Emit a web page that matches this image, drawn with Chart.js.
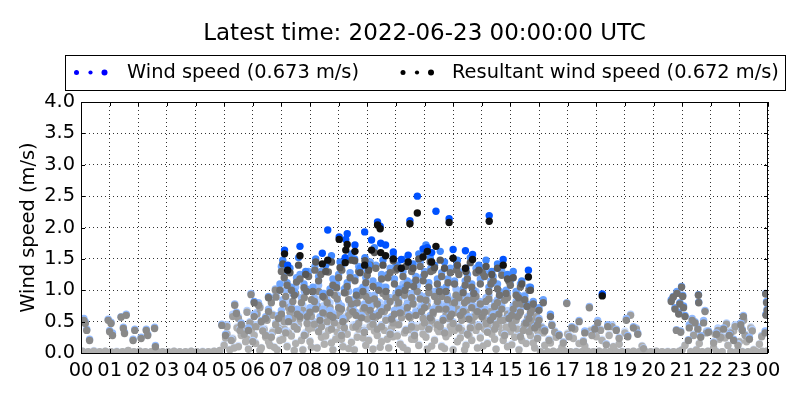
<!DOCTYPE html>
<html>
<head>
<meta charset="utf-8">
<script src="https://cdn.jsdelivr.net/npm/chart.js@4.4.0/dist/chart.umd.min.js"></script>
<style>
  body { margin: 0; background: #fff; }
  #wrap { width: 800px; height: 400px; }
</style>
</head>
<body>
<div id="wrap"><canvas id="windChart"></canvas></div>
<script>
const titleText = 'Latest time: 2022-06-23 00:00:00 UTC';
const latestWind = 0.673;
const latestResultant = 0.672;

const hourLabels = ['00','01','02','03','04','05','06','07','08','09','10','11','12',
  '13','14','15','16','17','18','19','20','21','22','23','00'];
const speedLabels = ['0.0','0.5','1.0','1.5','2.0','2.5','3.0','3.5','4.0'];

// each row: [hour of day, wind speed, resultant wind speed]  (m/s)
// day1 = oldest (lightest) ... day6 = latest day (darkest)
const day1 = [
  [0.05,0.03,0.03],[0.25,0.02,0.02],[0.45,0.04,0.03],[0.65,0.02,0.02],[0.85,0.03,0.03],
  [1.05,0.02,0.02],[1.25,0.03,0.02],[1.45,0.02,0.02],[1.65,0.04,0.04],[1.85,0.02,0.02],
  [2.05,0.03,0.03],[2.25,0.02,0.02],[2.45,0.02,0.02],[2.65,0.03,0.03],[2.85,0.02,0.02],
  [3.05,0.02,0.02],[3.25,0.03,0.03],[3.45,0.02,0.02],[3.65,0.02,0.02],[3.85,0.03,0.03],
  [4.05,0.02,0.02],[4.25,0.03,0.02],[4.45,0.02,0.02],[4.65,0.03,0.03],[4.85,0.04,0.04],
  [5.00,0.14,0.12],[5.10,0.32,0.30],[5.20,0.06,0.05],[5.30,0.24,0.22],[5.45,0.42,0.40],
  [5.50,0.12,0.10],[5.60,0.30,0.28],[5.75,0.20,0.18],[5.85,0.07,0.06],[5.95,0.37,0.35],
  [6.10,0.17,0.15],[6.20,0.45,0.42],[6.30,0.09,0.08],[6.45,0.27,0.25],[6.60,0.14,0.12],
  [6.70,0.36,0.33],[6.85,0.06,0.05],[6.95,0.22,0.20],[7.10,0.41,0.38],[7.20,0.12,0.10],
  [7.35,0.30,0.27],[7.50,0.17,0.15],[7.60,0.48,0.45],[7.75,0.06,0.05],[7.85,0.33,0.30],
  [8.00,0.20,0.18],[8.10,0.43,0.40],[8.25,0.09,0.08],[8.40,0.28,0.25],[8.50,0.16,0.14],
  [8.65,0.40,0.36],[8.80,0.06,0.05],[8.90,0.25,0.22],[9.05,0.48,0.44],[9.15,0.12,0.10],
  [9.30,0.33,0.30],[9.45,0.19,0.17],[9.55,0.06,0.05],[9.70,0.42,0.38],[9.85,0.27,0.24],
  [9.95,0.14,0.12],[10.10,0.46,0.42],[10.20,0.07,0.06],[10.35,0.31,0.28],[10.50,0.20,0.18],
  [10.60,0.40,0.36],[10.75,0.09,0.08],[10.90,0.29,0.26],[11.00,0.49,0.45],[11.15,0.16,0.14],
  [11.30,0.35,0.32],[11.40,0.05,0.04],[11.55,0.25,0.22],[11.70,0.44,0.40],[11.80,0.14,0.12],
  [11.95,0.33,0.30],[12.10,0.07,0.06],[12.20,0.48,0.44],[12.35,0.22,0.20],[12.50,0.37,0.34],
  [12.60,0.12,0.10],[12.75,0.29,0.26],[12.90,0.46,0.42],[13.00,0.06,0.05],[13.15,0.20,0.18],
  [13.30,0.40,0.36],[13.45,0.14,0.12],[13.55,0.31,0.28],[13.70,0.49,0.45],[13.85,0.09,0.08],
  [13.95,0.27,0.24],[14.10,0.42,0.38],[14.20,0.17,0.15],[14.35,0.33,0.30],[14.50,0.07,0.06],
  [14.60,0.46,0.42],[14.75,0.22,0.20],[14.90,0.12,0.10],[15.00,0.37,0.34],[15.15,0.28,0.25],
  [15.30,0.06,0.05],[15.45,0.43,0.40],[15.55,0.17,0.15],[15.70,0.31,0.28],[15.85,0.09,0.08],
  [15.95,0.38,0.35],[16.05,0.03,0.02],[16.20,0.13,0.12],[16.30,0.02,0.02],[16.50,0.03,0.03],
  [16.60,0.27,0.25],[16.70,0.02,0.02],[16.90,0.03,0.03],[17.00,0.32,0.30],[17.10,0.02,0.02],
  [17.30,0.03,0.02],[17.40,0.16,0.15],[17.50,0.02,0.02],[17.70,0.03,0.03],[17.80,0.37,0.35],
  [17.90,0.02,0.02],[18.10,0.03,0.03],[18.20,0.22,0.20],[18.30,0.02,0.02],[18.50,0.03,0.03],
  [18.60,0.11,0.10],[18.70,0.02,0.02],[18.90,0.03,0.02],[19.10,0.02,0.02],[19.30,0.03,0.03],
  [19.50,0.02,0.02],[19.70,0.03,0.03],[19.90,0.02,0.02],[20.10,0.03,0.03],[20.30,0.02,0.02],
  [20.50,0.03,0.02],[20.70,0.02,0.02],[20.90,0.03,0.03],[21.00,0.06,0.05],[21.10,0.13,0.12],
  [21.30,0.03,0.02],[21.50,0.06,0.05],[21.60,0.16,0.15],[21.70,0.02,0.02],[21.90,0.03,0.03],
  [22.10,0.09,0.08],[22.20,0.03,0.02],[22.30,0.24,0.22],[22.40,0.02,0.02],[22.60,0.13,0.12],
  [22.70,0.03,0.02],[22.90,0.02,0.02],[23.00,0.19,0.18],[23.10,0.03,0.02],[23.30,0.02,0.02],
  [23.50,0.06,0.05],[23.60,0.02,0.02],[23.80,0.03,0.03],[23.95,0.03,0.03],
  [5.05,0.26,0.24],[5.35,0.10,0.08],[5.65,0.44,0.40],[5.80,0.25,0.22],[6.05,0.30,0.28],
  [6.25,0.05,0.04],[6.40,0.40,0.37],[6.55,0.20,0.18],[6.75,0.10,0.09],[6.90,0.44,0.40],
  [7.05,0.25,0.22],[7.25,0.35,0.32],[7.45,0.05,0.04],[7.70,0.22,0.20],[7.95,0.42,0.38],
  [8.05,0.10,0.09],[8.35,0.45,0.41],[8.55,0.30,0.27],[8.75,0.18,0.16],[8.95,0.36,0.33],
  [9.10,0.24,0.22],[9.35,0.08,0.07],[9.50,0.45,0.41],[9.65,0.28,0.25],[9.90,0.40,0.36],
  [10.05,0.22,0.20],[10.25,0.38,0.35],[10.45,0.10,0.09],[10.70,0.24,0.22],[10.85,0.44,0.40],
  [11.05,0.30,0.27],[11.25,0.10,0.09],[11.50,0.40,0.37],[11.65,0.24,0.22],[11.90,0.46,0.42],
  [12.05,0.28,0.25],[12.25,0.12,0.11],[12.45,0.42,0.38],[12.70,0.08,0.07],[12.85,0.34,0.31],
  [13.05,0.40,0.36],[13.25,0.26,0.24],[13.40,0.06,0.05],[13.65,0.22,0.20],[13.80,0.40,0.36],
  [14.05,0.12,0.11],[14.25,0.45,0.41],[14.45,0.24,0.22],[14.70,0.35,0.32],[14.85,0.45,0.41],
  [15.05,0.15,0.13],[15.25,0.42,0.38],[15.40,0.22,0.20],[15.65,0.44,0.40],[15.80,0.18,0.16],
  [16.15,0.35,0.32],[16.40,0.18,0.16],[16.80,0.10,0.09],[17.20,0.25,0.23],[17.60,0.12,0.11],
  [18.00,0.28,0.26],[18.45,0.30,0.28],[18.80,0.15,0.14],[19.00,0.35,0.32],[19.60,0.12,0.11],
  [22.15,0.32,0.30],[22.50,0.26,0.24],[22.80,0.38,0.35],[23.25,0.20,0.18],[23.40,0.42,0.40],
  [23.70,0.15,0.14]
];

const day2 = [
  [5.10,0.45,0.42],[5.25,0.22,0.20],[5.50,0.58,0.55],[5.70,0.32,0.30],[5.90,0.50,0.48],
  [6.00,0.20,0.18],[6.15,0.65,0.62],[6.35,0.38,0.35],[6.50,0.55,0.52],[6.65,0.28,0.25],
  [6.80,0.48,0.45],[7.00,0.62,0.58],[7.15,0.35,0.32],[7.30,0.72,0.65],[7.45,0.45,0.42],
  [7.65,0.58,0.55],[7.80,0.30,0.28],[7.95,0.68,0.62],[8.15,0.50,0.46],[8.30,0.36,0.34],
  [8.45,0.75,0.68],[8.60,0.55,0.50],[8.75,0.40,0.38],[8.95,0.65,0.60],[9.10,0.30,0.28],
  [9.25,0.58,0.54],[9.40,0.78,0.70],[9.60,0.45,0.42],[9.75,0.62,0.58],[9.90,0.35,0.33],
  [10.05,0.70,0.65],[10.20,0.50,0.46],[10.35,0.40,0.38],[10.45,0.80,0.72],[10.65,0.55,0.52],
  [10.80,0.32,0.30],[10.95,0.68,0.62],[11.10,0.48,0.45],[11.25,0.72,0.66],[11.35,0.38,0.36],
  [11.50,0.60,0.56],[11.65,0.30,0.28],[11.85,0.75,0.68],[12.00,0.52,0.48],[12.15,0.40,0.38],
  [12.30,0.66,0.62],[12.45,0.48,0.45],[12.60,0.78,0.70],[12.70,0.35,0.32],[12.85,0.58,0.55],
  [13.05,0.70,0.64],[13.20,0.42,0.40],[13.35,0.62,0.58],[13.50,0.32,0.30],[13.65,0.55,0.52],
  [13.80,0.74,0.68],[13.90,0.45,0.42],[14.05,0.60,0.56],[14.20,0.35,0.33],[14.40,0.68,0.62],
  [14.50,0.48,0.45],[14.65,0.56,0.52],[14.80,0.30,0.28],[14.95,0.62,0.58],[15.10,0.42,0.40],
  [15.20,0.55,0.52],[15.35,0.28,0.26],[15.50,0.48,0.45],[15.65,0.36,0.34],[15.80,0.52,0.50],
  [15.95,0.25,0.23],[16.10,0.42,0.40],[16.35,0.22,0.20],[16.55,0.35,0.33],[16.85,0.18,0.16],
  [17.05,0.28,0.26],[17.25,0.40,0.38],[17.55,0.20,0.18],[17.85,0.30,0.28],[18.15,0.38,0.36],
  [18.35,0.15,0.13],[18.55,0.45,0.42],[18.80,0.25,0.23],[19.20,0.62,0.60],[19.40,0.40,0.38],
  [19.65,0.08,0.07],[21.40,0.30,0.28],[21.85,0.35,0.32],[22.10,0.18,0.16],[22.25,0.40,0.36],
  [22.35,0.28,0.25],[22.55,0.48,0.46],[22.70,0.35,0.32],[22.85,0.45,0.42],[22.95,0.15,0.12],
  [23.15,0.55,0.52],[23.20,0.30,0.28],[23.45,0.38,0.35],[23.78,0.28,0.26],
  [5.30,0.62,0.58],[5.55,0.38,0.36],[5.80,0.68,0.65],[6.10,0.45,0.42],[6.25,0.75,0.72],
  [6.45,0.30,0.28],[6.70,0.62,0.60],[6.90,0.38,0.36],[7.10,0.55,0.50],[7.25,0.82,0.72],
  [7.40,0.60,0.55],[7.55,0.40,0.38],[7.75,0.76,0.68],[7.90,0.50,0.47],[8.05,0.62,0.58],
  [8.25,0.85,0.75],[8.40,0.45,0.42],[8.55,0.68,0.62],[8.70,0.80,0.72],[8.85,0.52,0.48],
  [9.05,0.72,0.66],[9.20,0.42,0.40],[9.35,0.65,0.60],[9.55,0.85,0.78],[9.70,0.50,0.47],
  [9.85,0.75,0.68],[10.00,0.58,0.54],[10.15,0.82,0.75],[10.30,0.62,0.57],[10.50,0.45,0.42],
  [10.60,0.72,0.66],[10.75,0.88,0.80],[10.90,0.52,0.48],[11.05,0.78,0.72],[11.20,0.60,0.56],
  [11.40,0.85,0.78],[11.55,0.45,0.42],[11.70,0.68,0.62],[11.95,0.58,0.55],[12.10,0.82,0.75],
  [12.25,0.55,0.52],[12.40,0.75,0.70],[12.55,0.45,0.42],[12.75,0.65,0.60],[12.90,0.85,0.78],
  [13.00,0.50,0.47],[13.15,0.78,0.70],[13.30,0.55,0.52],[13.45,0.70,0.65],[13.60,0.42,0.40],
  [13.75,0.62,0.58],[13.95,0.80,0.72],[14.15,0.50,0.47],[14.30,0.72,0.66],[14.45,0.40,0.38],
  [14.60,0.78,0.70],[14.75,0.55,0.52],[14.90,0.68,0.62],[15.05,0.48,0.45],[15.30,0.65,0.60],
  [15.45,0.38,0.36],[15.60,0.58,0.55],[15.75,0.45,0.42],[15.90,0.62,0.58]
];

const day3 = [
  [0.10,0.55,0.52],[0.15,0.50,0.47],[0.20,0.38,0.36],[0.30,0.22,0.20],[0.95,0.54,0.52],
  [1.05,0.49,0.47],[1.00,0.36,0.34],[1.10,0.32,0.28],[1.40,0.58,0.57],[1.58,0.62,0.60],
  [1.48,0.41,0.39],[1.52,0.33,0.31],[1.82,0.22,0.20],[1.88,0.38,0.36],[2.10,0.25,0.23],
  [2.28,0.38,0.36],[2.33,0.30,0.28],[2.57,0.41,0.39],[2.60,0.12,0.10],[4.92,0.46,0.44],
  [5.05,0.30,0.28],[5.37,0.78,0.76],[5.43,0.65,0.63],[5.60,0.48,0.45],[5.85,0.40,0.36],
  [5.94,0.95,0.93],[6.05,0.62,0.58],[6.30,0.52,0.50],[6.55,0.70,0.66],[6.79,1.02,1.00],
  [6.81,0.92,0.89],[6.90,0.60,0.55],[7.05,0.85,0.78],[7.25,0.55,0.50],[7.40,0.95,0.82],
  [7.55,0.70,0.62],[7.70,0.88,0.80],[7.90,0.62,0.58],[8.05,1.00,0.85],[8.20,0.78,0.70],
  [8.35,0.58,0.52],[8.50,0.95,0.88],[8.70,0.68,0.60],[8.85,1.05,0.92],[9.00,0.80,0.72],
  [9.15,0.55,0.50],[9.35,0.98,0.85],[9.50,0.72,0.66],[9.65,0.88,0.80],[9.80,0.60,0.56],
  [9.95,1.02,0.90],[10.10,0.75,0.68],[10.25,0.92,0.86],[10.40,0.65,0.60],[10.55,1.05,0.95],
  [10.70,0.80,0.72],[10.85,0.58,0.54],[11.00,0.95,0.88],[11.15,0.70,0.64],[11.30,1.00,0.92],
  [11.45,0.62,0.58],[11.60,0.85,0.78],[11.75,1.08,0.98],[11.90,0.72,0.66],[12.05,0.90,0.84],
  [12.20,0.60,0.56],[12.35,0.98,0.90],[12.50,0.78,0.70],[12.65,0.55,0.52],[12.80,0.92,0.85],
  [12.95,0.70,0.62],[13.10,1.02,0.92],[13.25,0.65,0.60],[13.40,0.85,0.80],[13.55,0.58,0.54],
  [13.70,0.95,0.86],[13.85,0.72,0.66],[14.00,0.62,0.58],[14.15,0.88,0.82],[14.30,0.55,0.52],
  [14.45,0.80,0.74],[14.60,0.68,0.62],[14.80,0.90,0.84],[14.95,0.58,0.55],[15.10,0.75,0.70],
  [15.25,0.62,0.58],[15.40,0.85,0.78],[15.55,0.50,0.48],[15.70,0.68,0.64],[15.85,0.42,0.40],
  [16.00,0.55,0.52],[16.20,0.38,0.35],[16.45,0.46,0.44],[16.70,0.30,0.28],[16.97,0.80,0.79],
  [17.15,0.42,0.40],[17.40,0.52,0.50],[17.60,0.35,0.32],[17.76,0.74,0.72],[17.95,0.40,0.38],
  [18.05,0.52,0.48],[18.40,0.45,0.42],[18.70,0.38,0.36],[19.05,0.55,0.52],[19.10,0.28,0.26],
  [19.30,0.42,0.40],[19.45,0.32,0.30],[20.80,0.37,0.36],[20.95,0.35,0.33],[21.22,0.21,0.20],
  [21.25,0.45,0.40],[21.35,0.55,0.52],[21.45,0.50,0.48],[21.55,0.42,0.38],[21.65,0.28,0.25],
  [21.75,0.52,0.48],[21.80,0.68,0.66],[21.92,0.35,0.33],[22.20,0.32,0.30],[22.45,0.40,0.38],
  [22.65,0.30,0.28],[22.80,0.22,0.20],[23.05,0.48,0.45],[23.10,0.38,0.36],[23.14,0.60,0.58],
  [23.35,0.25,0.22],[23.90,0.35,0.32],
  [6.20,0.80,0.76],[6.45,0.58,0.55],[6.65,0.85,0.80],[7.00,0.68,0.62],[7.15,1.00,0.90],
  [7.35,0.75,0.70],[7.50,1.05,0.95],[7.65,0.62,0.58],[7.80,0.98,0.88],[8.00,0.72,0.65],
  [8.15,0.88,0.82],[8.30,1.08,0.98],[8.45,0.70,0.64],[8.60,0.85,0.80],[8.80,0.62,0.57],
  [8.95,0.92,0.86],[9.10,0.75,0.70],[9.25,1.05,0.96],[9.45,0.85,0.78],[9.60,0.65,0.60],
  [9.75,1.00,0.92],[9.90,0.78,0.72],[10.05,0.92,0.84],[10.20,0.62,0.58],[10.35,0.82,0.78],
  [10.50,0.72,0.66],[10.65,0.98,0.90],[10.80,0.88,0.82],[10.95,0.68,0.62],[11.10,0.85,0.80],
  [11.25,1.10,0.98],[11.40,0.78,0.72],[11.55,0.95,0.88],[11.70,0.65,0.60],[11.85,0.92,0.86],
  [12.00,0.78,0.72],[12.15,1.05,0.96],[12.30,0.70,0.65],[12.45,0.88,0.82],[12.60,1.00,0.90],
  [12.75,0.75,0.70],[12.90,0.62,0.58],[13.05,0.85,0.80],[13.20,0.95,0.88],[13.35,0.70,0.66],
  [13.50,0.90,0.84],[13.65,0.78,0.72],[13.80,0.98,0.90],[13.95,0.82,0.78],[14.10,0.70,0.65],
  [14.25,0.92,0.86],[14.40,0.62,0.58],[14.55,0.85,0.80],[14.70,0.75,0.70],[14.90,0.95,0.88],
  [15.05,0.65,0.60],[15.20,0.82,0.78],[15.35,0.70,0.65],[15.50,0.92,0.86],[15.65,0.58,0.55],
  [15.80,0.75,0.70],[15.95,0.48,0.45]
];

const day4 = [
  [6.05,0.82,0.80],[6.55,0.90,0.88],[6.95,1.10,1.00],[7.10,1.28,1.20],[7.20,1.12,1.08],
  [7.45,0.98,0.92],[7.53,1.20,1.13],[7.79,1.10,1.04],[7.95,1.30,1.22],[8.10,1.05,0.98],
  [8.17,1.38,1.32],[8.30,1.22,1.15],[8.45,0.95,0.90],[8.64,1.45,1.29],[8.80,1.18,1.08],
  [8.93,1.10,1.04],[9.11,1.38,1.32],[9.20,1.02,0.96],[9.40,1.28,1.20],[9.57,1.20,1.15],
  [9.70,1.38,1.30],[9.85,1.05,0.98],[10.00,1.30,1.24],[10.20,1.15,1.06],[10.30,1.40,1.35],
  [10.50,1.25,1.18],[10.65,1.05,0.98],[10.80,1.35,1.28],[10.95,1.18,1.10],[11.10,1.02,0.96],
  [11.25,1.30,1.22],[11.40,1.15,1.08],[11.55,1.38,1.30],[11.70,1.22,1.16],[11.85,1.45,1.38],
  [12.00,1.30,1.25],[12.15,1.12,1.05],[12.30,1.40,1.32],[12.45,1.18,1.10],[12.60,1.28,1.22],
  [12.75,1.05,0.98],[12.90,1.35,1.28],[13.05,1.15,1.10],[13.20,1.30,1.25],[13.35,1.02,0.96],
  [13.50,1.25,1.18],[13.65,1.10,1.05],[13.80,1.35,1.28],[13.95,1.18,1.10],[14.10,1.28,1.22],
  [14.25,1.05,0.98],[14.40,1.22,1.15],[14.55,1.10,1.02],[14.70,1.30,1.24],[14.85,1.00,0.95],
  [15.00,1.15,1.08],[15.20,0.98,0.92],[15.35,1.10,1.05],[15.50,0.90,0.85],[15.65,1.05,1.00],
  [15.80,0.82,0.78],[16.00,0.72,0.68],[16.15,0.85,0.80],[16.40,0.62,0.58],[20.62,0.85,0.82],
  [20.69,0.90,0.89],[20.75,0.72,0.70],[20.82,0.98,0.95],[20.88,0.65,0.62],[20.92,0.80,0.78],
  [20.98,1.06,1.05],[21.02,0.92,0.90],[21.05,0.75,0.72],[21.10,0.60,0.58],[21.57,0.93,0.92],
  [21.58,0.81,0.80],[23.92,0.95,0.94],[23.95,0.82,0.80],[23.97,0.70,0.68],[23.93,0.62,0.60],
  [7.00,1.38,1.30],[7.35,1.05,1.00],[7.65,1.25,1.18],[7.88,1.02,0.98],[8.38,1.30,1.25],
  [8.70,1.02,0.96],[9.00,1.25,1.20],[9.30,1.12,1.06],[9.62,0.98,0.92],[9.95,1.20,1.12],
  [10.10,1.45,1.40],[10.40,1.08,1.00],[10.72,1.25,1.20],[11.00,1.40,1.32],[11.32,1.05,1.00],
  [11.62,1.12,1.06],[11.95,1.22,1.15],[12.22,1.35,1.30],[12.52,1.02,0.98],[12.82,1.18,1.12],
  [13.12,1.40,1.32],[13.42,1.15,1.08],[13.72,1.00,0.95],[14.02,1.35,1.28],[14.32,1.15,1.10],
  [14.62,0.98,0.92],[14.95,1.20,1.14],[15.28,0.92,0.88],[15.58,0.78,0.74]
];

const day5 = [
  [7.05,1.48,1.42],[7.30,1.35,1.28],[7.60,1.52,1.40],[7.85,1.30,1.25],[8.20,1.50,1.45],
  [8.55,1.40,1.30],[8.75,1.55,1.45],[9.05,1.45,1.36],[9.45,1.58,1.48],[9.56,1.50,1.47],
  [9.75,1.35,1.28],[9.92,1.52,1.47],[10.05,1.40,1.32],[10.25,1.68,1.60],[10.55,1.48,1.40],
  [10.91,1.55,1.47],[11.05,1.40,1.35],[11.35,1.50,1.38],[11.60,1.42,1.35],[11.80,1.58,1.50],
  [12.05,1.72,1.62],[12.20,1.52,1.45],[12.35,1.40,1.36],[12.55,1.62,1.48],[12.70,1.45,1.35],
  [13.15,1.48,1.40],[13.45,1.35,1.30],[13.60,1.52,1.44],[13.90,1.40,1.32],[14.15,1.48,1.38],
  [14.35,1.30,1.25],[14.55,1.42,1.35],[14.90,1.25,1.18],[15.10,1.30,1.20],[15.40,1.15,1.10],
  [15.70,1.05,1.00]
];

const day6 = [
  [7.11,1.64,1.58],[7.22,1.40,1.32],[7.65,1.70,1.55],[8.43,1.59,1.42],[8.62,1.96,1.48],
  [9.02,1.85,1.81],[9.23,1.52,1.44],[9.25,1.81,1.64],[9.30,1.90,1.73],[9.57,1.72,1.62],
  [9.91,1.93,1.40],[10.15,1.80,1.64],[10.36,2.09,2.04],[10.45,2.02,1.98],[10.47,1.75,1.60],
  [10.64,1.72,1.55],[10.91,1.61,1.50],[11.19,1.49,1.35],[11.43,1.56,1.45],[11.49,2.11,2.06],
  [11.75,2.50,2.23],[11.95,1.66,1.53],[12.10,1.68,1.62],[12.25,1.60,1.45],[12.40,2.26,1.70],
  [12.86,2.14,2.08],[13.00,1.65,1.51],[13.43,1.63,1.35],[13.68,1.57,1.49],[14.26,2.19,2.10],
  [14.75,1.49,1.40],[15.63,1.32,1.21],[18.21,0.94,0.91]
];

const windColors = ['#d4e4ff', '#b5d0ff', '#93bbff', '#6aa3ff', '#3d86ff', '#0052ff'];
const resultantColors = ['#afafaf', '#9d9d9d', '#898989', '#717171', '#575757', '#111111'];
const days = [day1, day2, day3, day4, day5, day6];

const datasets = [];
days.forEach((rows, d) => {
  datasets.push({
    label: 'Wind speed',
    data: rows.map(r => ({ x: r[0], y: r[1] })),
    backgroundColor: windColors[d]
  });
  datasets.push({
    label: 'Resultant wind speed',
    data: rows.map(r => ({ x: r[0], y: r[2] })),
    backgroundColor: resultantColors[d]
  });
});
// Chart.js paints dataset 0 last, latest day must be on top
datasets.reverse();
datasets.forEach(ds => {
  ds.pointRadius = 3.7;
  ds.pointHoverRadius = 3.7;
  ds.borderWidth = 0;
  ds.clip = 0;
});

const fontName = '"DejaVu Sans", sans-serif';

const framePlugin = {
  id: 'frame',
  afterDraw(chart) {
    const ctx = chart.ctx;
    const a = chart.chartArea;
    const xs = chart.scales.x;
    const ys = chart.scales.y;
    ctx.save();
    ctx.strokeStyle = '#000';
    ctx.lineWidth = 1;
    ctx.strokeRect(a.left + 0.5, a.top + 0.5, a.right - a.left - 1, a.bottom - a.top);
    // inward tick marks on all four sides
    ctx.beginPath();
    hourLabels.forEach((l, i) => {
      const px = Math.round(xs.getPixelForValue(i)) + 0.5;
      ctx.moveTo(px, a.bottom); ctx.lineTo(px, a.bottom - 4);
      ctx.moveTo(px, a.top); ctx.lineTo(px, a.top + 4);
    });
    speedLabels.forEach((l, i) => {
      const py = Math.round(ys.getPixelForValue(i * 0.5)) + 0.5;
      ctx.moveTo(a.left, py); ctx.lineTo(a.left + 4, py);
      ctx.moveTo(a.right, py); ctx.lineTo(a.right - 4, py);
    });
    ctx.stroke();

    // title
    ctx.fillStyle = '#000';
    ctx.textAlign = 'center';
    ctx.textBaseline = 'middle';
    ctx.font = '23px ' + fontName;
    ctx.fillText(titleText, (a.left + a.right) / 2, 34);

    // legend box
    ctx.fillStyle = '#fff';
    ctx.fillRect(65, 55, 720, 35);
    ctx.strokeRect(65.5, 55.5, 720, 35);
    const entries = [
      { x: 76.5, color: '#0000ff', text: 'Wind speed (' + latestWind.toFixed(3) + ' m/s)', tx: 127 },
      { x: 403, color: '#000000', text: 'Resultant wind speed (' + latestResultant.toFixed(3) + ' m/s)', tx: 452 }
    ];
    const dotR = [2.5, 2.1, 3.0];
    const ly = 72.5;
    entries.forEach(e => {
      ctx.fillStyle = e.color;
      dotR.forEach((r, i) => {
        ctx.beginPath();
        ctx.arc(e.x + i * 14, ly, r, 0, Math.PI * 2);
        ctx.fill();
      });
      ctx.fillStyle = '#000';
      ctx.textAlign = 'left';
      ctx.font = '19.4px ' + fontName;
      ctx.fillText(e.text, e.tx, ly);
    });
    ctx.restore();
  }
};

new Chart(document.getElementById('windChart'), {
  type: 'scatter',
  data: { datasets: datasets },
  options: {
    responsive: true,
    maintainAspectRatio: false,
    animation: false,
    events: [],
    layout: { padding: { left: 0, right: 32, top: 102, bottom: 0 } },
    plugins: {
      legend: { display: false },
      tooltip: { enabled: false }
    },
    scales: {
      x: {
        type: 'linear',
        min: 0,
        max: 24,
        z: 1,
        afterFit: scale => { scale.height = 47; },
        afterBuildTicks: scale => { scale.ticks = hourLabels.map((l, i) => ({ value: i })); },
        grid: { color: 'rgba(0,0,0,0.8)', lineWidth: 1, drawTicks: false },
        border: { display: false, dash: [1, 3] },
        ticks: {
          autoSkip: false,
          maxRotation: 0,
          padding: 6,
          color: '#000',
          font: { family: fontName, size: 19.4 },
          callback: (v, i) => hourLabels[i]
        }
      },
      y: {
        min: 0,
        max: 4,
        z: 1,
        afterFit: scale => { scale.width = 81; },
        afterBuildTicks: scale => { scale.ticks = speedLabels.map((l, i) => ({ value: i * 0.5 })); },
        grid: { color: 'rgba(0,0,0,0.8)', lineWidth: 1, drawTicks: false },
        border: { display: false, dash: [1, 3] },
        title: {
          display: true,
          text: 'Wind speed (m/s)',
          color: '#000',
          font: { family: fontName, size: 19.4 },
          padding: { top: 17, bottom: 0 }
        },
        ticks: {
          padding: 6,
          color: '#000',
          font: { family: fontName, size: 19.4 },
          callback: (v, i) => speedLabels[i]
        }
      }
    }
  },
  plugins: [framePlugin]
});
</script>
</body>
</html>
